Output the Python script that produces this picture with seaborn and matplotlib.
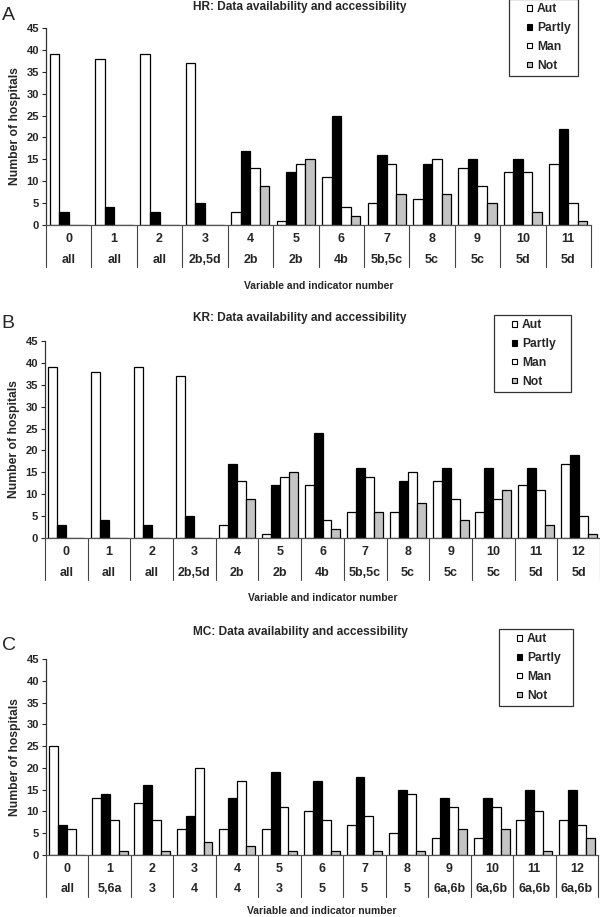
import pandas as pd
import matplotlib
matplotlib.use("Agg")
import matplotlib.pyplot as plt
import matplotlib.transforms as mtransforms
from matplotlib.patches import Patch, Rectangle
from matplotlib.legend_handler import HandlerPatch
import seaborn as sns

# categories and values
statuses = ["Aut", "Partly", "Man", "Not"]

hr_vars = ["0", "1", "2", "3", "4", "5", "6", "7", "8", "9", "10", "11"]
hr_ind = ["all", "all", "all", "2b,5d", "2b", "2b", "4b", "5b,5c", "5c", "5c", "5d", "5d"]
hr_aut = [39, 38, 39, 37, 3, 1, 11, 5, 6, 13, 12, 14]
hr_partly = [3, 4, 3, 5, 17, 12, 25, 16, 14, 15, 15, 22]
hr_man = [0, 0, 0, 0, 13, 14, 4, 14, 15, 9, 12, 5]
hr_not = [0, 0, 0, 0, 9, 15, 2, 7, 7, 5, 3, 1]

kr_vars = ["0", "1", "2", "3", "4", "5", "6", "7", "8", "9", "10", "11", "12"]
kr_ind = ["all", "all", "all", "2b,5d", "2b", "2b", "4b", "5b,5c", "5c", "5c", "5c", "5d", "5d"]
kr_aut = [39, 38, 39, 37, 3, 1, 12, 6, 6, 13, 6, 12, 17]
kr_partly = [3, 4, 3, 5, 17, 12, 24, 16, 13, 16, 16, 16, 19]
kr_man = [0, 0, 0, 0, 13, 14, 4, 14, 15, 9, 9, 11, 5]
kr_not = [0, 0, 0, 0, 9, 15, 2, 6, 8, 4, 11, 3, 1]

mc_vars = ["0", "1", "2", "3", "4", "5", "6", "7", "8", "9", "10", "11", "12"]
mc_ind = ["all", "5,6a", "3", "4", "4", "3", "5", "5", "5", "6a,6b", "6a,6b", "6a,6b", "6a,6b"]
mc_aut = [25, 13, 12, 6, 6, 6, 10, 7, 5, 4, 4, 8, 8]
mc_partly = [7, 14, 16, 9, 13, 19, 17, 18, 15, 13, 13, 15, 15]
mc_man = [6, 8, 8, 20, 17, 11, 8, 9, 14, 11, 11, 10, 7]
mc_not = [0, 1, 1, 3, 2, 1, 1, 1, 1, 6, 6, 1, 4]

colors = {"Aut": "white", "Partly": "black", "Man": "white", "Not": "#c4c4c4"}

sns.set_style("white")
plt.rcParams["font.family"] = ["Liberation Sans", "DejaVu Sans"]
plt.rcParams["font.weight"] = "bold"

fig = plt.figure(figsize=(6, 9.17), dpi=100)
H = 917.0


def make_df(vars_, aut, partly, man, notv):
    rows = []
    for i, v in enumerate(vars_):
        for s, vals in zip(statuses, [aut, partly, man, notv]):
            rows.append({"var": v, "status": s, "count": vals[i]})
    return pd.DataFrame(rows)


# small square sitting at the right end of the handle area
def square_patch(legend, orig_handle, xdescent, ydescent, width, height, fontsize):
    s = 3.8
    return Rectangle((-xdescent + width - s, -ydescent + (height - s) / 2), s, s)


def draw_panel(rect, letter, letter_y, title, title_y, vars_, ind, aut, partly, man, notv,
               leg_box, xlab_y):
    ax = fig.add_axes(rect)
    df = make_df(vars_, aut, partly, man, notv)
    sns.barplot(data=df, x="var", y="count", hue="status", order=vars_,
                hue_order=statuses, palette=colors, saturation=1, width=0.84,
                edgecolor="black", linewidth=0.9, legend=False, ax=ax)
    n = len(vars_)
    ax.set_xlim(-0.5, n - 0.5)
    ax.set_ylim(0, 45)
    ax.set_yticks(range(0, 46, 5))
    ax.tick_params(axis="y", labelsize=8, length=3, width=0.8, pad=2, left=True)
    ax.tick_params(axis="x", bottom=False, labelbottom=False)
    ax.set_xlabel("")
    ax.set_ylabel("Number of hospitals", fontsize=8.7, fontweight="bold", labelpad=4)
    for s in ["top", "right"]:
        ax.spines[s].set_visible(False)
    ax.spines["left"].set_color("#333333")
    ax.spines["bottom"].set_color("#555555")
    for s in ["left", "bottom"]:
        ax.spines[s].set_linewidth(0.9)

    # category table below the axis
    trans = mtransforms.blended_transform_factory(ax.transData, ax.transAxes)
    for k in range(n + 1):
        ax.plot([k - 0.5, k - 0.5], [0, -0.213], transform=trans, color="#444444",
                lw=0.8, clip_on=False)
    for i in range(n):
        ax.text(i, -0.07, vars_[i], transform=trans, ha="center", va="center",
                fontsize=9, fontweight="bold")
    for i in range(n):
        ax.text(i, -0.176, ind[i], transform=trans, ha="center", va="center",
                fontsize=9, fontweight="bold")
    ax.text(0.5, xlab_y, "Variable and indicator number", transform=ax.transAxes,
            ha="center", va="center", fontsize=7.5, fontweight="bold")

    fig.text(0.5, 1 - title_y / H, title, ha="center", va="center",
             fontsize=8.6, fontweight="bold")
    fig.text(0.003, 1 - letter_y / H, letter, ha="left", va="center",
             fontsize=14, fontweight="normal")

    handles = [Patch(facecolor=colors[s], edgecolor="black", linewidth=0.8, label=s)
               for s in statuses]
    x0, y0, x1, y1 = leg_box
    leg = ax.legend(handles=handles, loc="upper left", mode="expand",
                    bbox_to_anchor=(x0 / 600, 1 - y1 / H, (x1 - x0) / 600, (y1 - y0) / H),
                    bbox_transform=fig.transFigure, fontsize=8.7, frameon=True,
                    fancybox=False, edgecolor="#333333", framealpha=1,
                    handler_map={Patch: HandlerPatch(patch_func=square_patch)},
                    handlelength=1.56, handleheight=0.7, handletextpad=0.39,
                    labelspacing=0.57, borderpad=0.35, borderaxespad=0)
    leg.get_frame().set_linewidth(0.9)
    for t in leg.get_texts():
        t.set_fontweight("bold")
    return ax


draw_panel([46 / 600, 1 - 225 / H, 545 / 600, 197 / H], "A", 15,
           "HR: Data availability and accessibility", 7,
           hr_vars, hr_ind, hr_aut, hr_partly, hr_man, hr_not, (509, -1, 578, 78), -0.31)
draw_panel([45 / 600, 1 - 538 / H, 555 / 600, 197 / H], "B", 323,
           "KR: Data availability and accessibility", 318,
           kr_vars, kr_ind, kr_aut, kr_partly, kr_man, kr_not, (494, 315, 571, 393), -0.305)
draw_panel([46 / 600, 1 - 855 / H, 552 / 600, 196 / H], "C", 645,
           "MC: Data availability and accessibility", 632,
           mc_vars, mc_ind, mc_aut, mc_partly, mc_man, mc_not, (499, 629, 573, 701), -0.285)

fig.savefig("out.png", dpi=100)
